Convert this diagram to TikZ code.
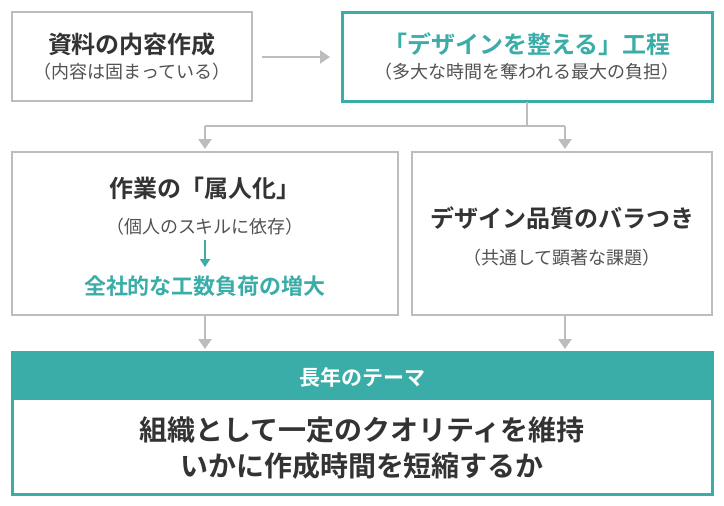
\documentclass[tikz,border=0pt]{standalone}
\usepackage{fontspec}
\setmainfont{Noto Sans CJK JP}
\newfontfamily\jpb{Noto Sans CJK JP Bold}
\usetikzlibrary{arrows.meta}
\definecolor{teal1}{HTML}{3AADA8}
\definecolor{gr}{HTML}{BDBDBD}
\definecolor{tx}{HTML}{333333}
\begin{document}
\begin{tikzpicture}[x=1pt,y=-1pt,
 gbox/.style={draw=gr,line width=2pt,fill=white},
 garr/.style={draw=gr,line width=2.5pt,-{Triangle[length=10pt,width=13pt]}},
 ttl/.style={font=\jpb\fontsize{24}{27}\selectfont,text=tx},
 sub/.style={font=\fontsize{18}{21}\selectfont,text=tx!85}]
\useasboundingbox (0,0) rectangle (724,506);
\fill[white] (0,0) rectangle (724,506);
\draw[gbox] (12,12) rectangle (252,101);
\node[ttl] (a1) at (132,44) {資料の内容作成};
\node[sub] (a2) at (132,72) {（内容は固まっている）};
\coordinate (ar1) at (262,57); \coordinate (ar2) at (330,57);
\draw[garr] (ar1) -- (ar2);
\draw[draw=teal1,line width=3pt,fill=white] (342,12) rectangle (712,101);
\node[ttl,text=teal1] (b1) at (527,44) {「デザインを整える」工程};
\node[sub] (b2) at (527,72) {（多大な時間を奪われる最大の負担）};
\coordinate (s) at (527,102); \coordinate (j) at (527,126);
\coordinate (l) at (205,126); \coordinate (r) at (565,126);
\coordinate (lb) at (205,149); \coordinate (rb) at (565,149);
\draw[gr,line width=2.5pt] (s) -- (j) (l) -- (r);
\draw[garr] (l) -- (lb);
\draw[garr] (r) -- (rb);
\draw[gbox] (12,152) rectangle (398,315);
\node[ttl] (c1) at (205,188) {作業の「属人化」};
\node[sub] (c2) at (205,227) {（個人のスキルに依存）};
\coordinate (t1) at (205,240); \coordinate (t2) at (205,267);
\draw[teal1,line width=2pt,-{Triangle[length=8pt,width=10pt]}] (t1) -- (t2);
\node[ttl,text=teal1,font=\jpb\fontsize{22}{25}\selectfont] (c3) at (205,286) {全社的な工数負荷の増大};
\draw[gbox] (412,152) rectangle (712,315);
\node[ttl] (d1) at (562,218) {デザイン品質のバラつき};
\node[sub] (d2) at (562,258) {（共通して顕著な課題）};
\coordinate (u1) at (205,316); \coordinate (u2) at (205,349);
\coordinate (v1) at (565,316); \coordinate (v2) at (565,349);
\draw[garr] (u1) -- (u2);
\draw[garr] (v1) -- (v2);
\draw[teal1,fill=white,line width=3pt] (12,352) rectangle (712,494);
\fill[teal1] (12,352) rectangle (712,400);
\node[font=\jpb\fontsize{21}{24}\selectfont,text=white] (e0) at (362,377) {長年のテーマ};
\node[font=\jpb\fontsize{28}{32}\selectfont,text=tx] (e1) at (362,430) {組織として一定のクオリティを維持};
\node[font=\jpb\fontsize{28}{32}\selectfont,text=tx] (e2) at (362,466) {いかに作成時間を短縮するか};
\end{tikzpicture}
\end{document}
